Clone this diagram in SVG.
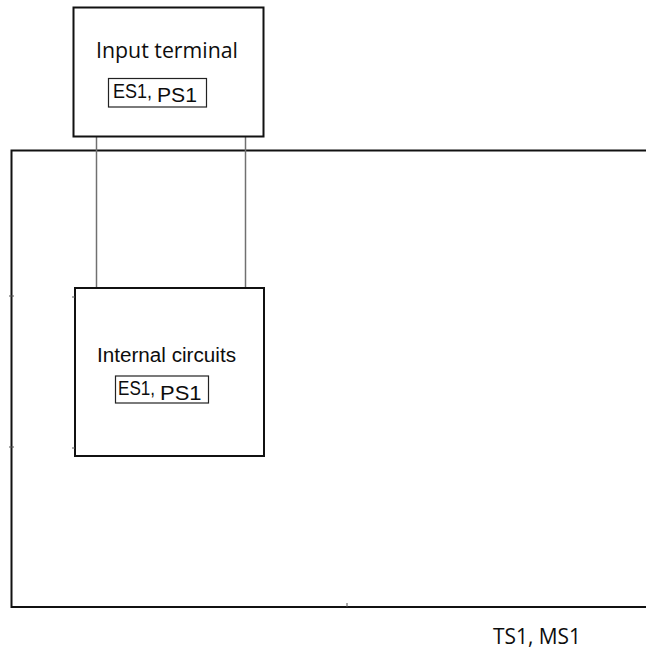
<svg xmlns="http://www.w3.org/2000/svg" width="646" height="652" viewBox="0 0 646 652">
<style>
.box{fill:#fff;stroke:#111;stroke-width:2}
.lbl{fill:none;stroke:#222;stroke-width:1.2}
.conn{stroke:#707070;stroke-width:1.5;fill:none}
.tick{stroke:#555;stroke-width:1}
.seg{font-family:"Open Sans","Liberation Sans",sans-serif;fill:#0d0d0d}
.ar{font-family:"Liberation Sans",Arial,sans-serif;fill:#0d0d0d}
</style>
<rect width="646" height="652" fill="#fff"/>
<g id="enclosure">
<path d="M646,150.5 H11.5 V607 H646" fill="none" stroke="#111" stroke-width="2"/>
<line class="tick" x1="9" y1="296" x2="14" y2="296"/>
<line class="tick" x1="9" y1="447" x2="14" y2="447"/>
<line class="tick" x1="347" y1="603" x2="347" y2="607"/>
<text class="seg" x="493" y="643.5" font-size="21.5" textLength="88" lengthAdjust="spacingAndGlyphs">TS1, MS1</text>
</g>
<g id="connectors">
<line class="conn" x1="96.5" y1="137" x2="96.5" y2="288"/>
<line class="conn" x1="245.5" y1="137" x2="245.5" y2="288"/>
</g>
<g id="input-terminal">
<rect class="box" x="73.5" y="7.5" width="190" height="129"/>
<text class="seg" x="96" y="57.5" font-size="21.5" textLength="142" lengthAdjust="spacingAndGlyphs">Input terminal</text>
<rect class="lbl" x="108.5" y="78.5" width="98" height="28.5"/>
<text class="ar" x="113" y="97.5" font-size="19.5" textLength="39" lengthAdjust="spacingAndGlyphs">ES1,</text>
<text class="ar" x="157" y="102" font-size="20.5" textLength="40" lengthAdjust="spacingAndGlyphs">PS1</text>
</g>
<g id="internal-circuits">
<rect class="box" x="75" y="288" width="189" height="168"/>
<line class="tick" x1="72" y1="297" x2="75" y2="297"/>
<line class="tick" x1="72" y1="448" x2="75" y2="448"/>
<text class="ar" x="97" y="362" font-size="20" textLength="139" lengthAdjust="spacingAndGlyphs">Internal circuits</text>
<rect class="lbl" x="115.5" y="376" width="93" height="27"/>
<text class="ar" x="118" y="394.5" font-size="19.5" textLength="37" lengthAdjust="spacingAndGlyphs">ES1,</text>
<text class="ar" x="160" y="399.5" font-size="20.5" textLength="41.5" lengthAdjust="spacingAndGlyphs">PS1</text>
</g>
</svg>
